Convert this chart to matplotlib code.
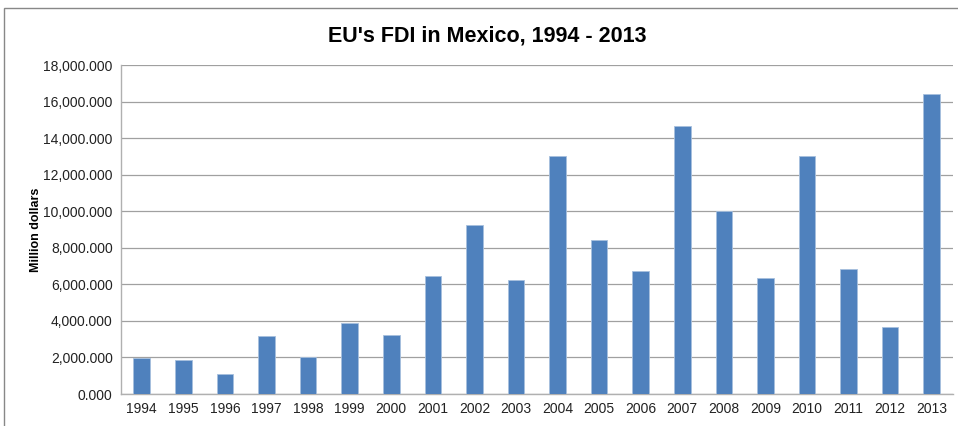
import matplotlib.pyplot as plt
from matplotlib.patches import Rectangle

plt.rcParams['font.family'] = ['Liberation Sans', 'DejaVu Sans']

# data (million dollars)
years = [str(y) for y in range(1994, 2014)]
fdi = [1950, 1860, 1090, 3170, 2010, 3880, 3230, 6450, 9230, 6240,
       13040, 8420, 6750, 14680, 10010, 6320, 13030, 6820, 3670, 16430]

fig = plt.figure(figsize=(9.58, 4.26), dpi=100)
ax = fig.add_axes([0.1263, 0.0751, 0.868, 0.7723])

ax.bar(range(len(years)), fdi, width=0.4, color='#4f81bd', edgecolor='#a7c0de', linewidth=0.6, zorder=3)
ax.set_xlim(-0.5, len(years) - 0.5)
ax.set_ylim(0, 18000)
ax.set_yticks(range(0, 18001, 2000))
ax.set_yticklabels([f"{v:,.3f}" for v in range(0, 18001, 2000)], fontsize=10, color='#222222')
ax.set_xticks(range(len(years)))
ax.set_xticklabels(years, fontsize=10, color='#222222')
ax.tick_params(length=0, pad=6)
ax.grid(axis='y', color='#a0a0a0', linewidth=0.9, zorder=0)
for s in ['top', 'right']:
    ax.spines[s].set_visible(False)
for s in ['left', 'bottom']:
    ax.spines[s].set_color('#b0b0b0')
    ax.spines[s].set_linewidth(1.0)

ax.set_ylabel('Million dollars', fontsize=9, fontweight='bold')
ax.yaxis.set_label_coords(-0.095, 0.5)

fig.text(0.509, 0.915, "EU's FDI in Mexico, 1994 - 2013", ha='center', va='center',
         fontsize=15.5, fontweight='bold')

# outer chart border
fig.patches.append(Rectangle((4 / 958, -0.05), 1.2, 1 - 8 / 426 + 0.05, transform=fig.transFigure,
                             fill=False, edgecolor='#888888', linewidth=1.0))

fig.savefig('out.png', dpi=100)
